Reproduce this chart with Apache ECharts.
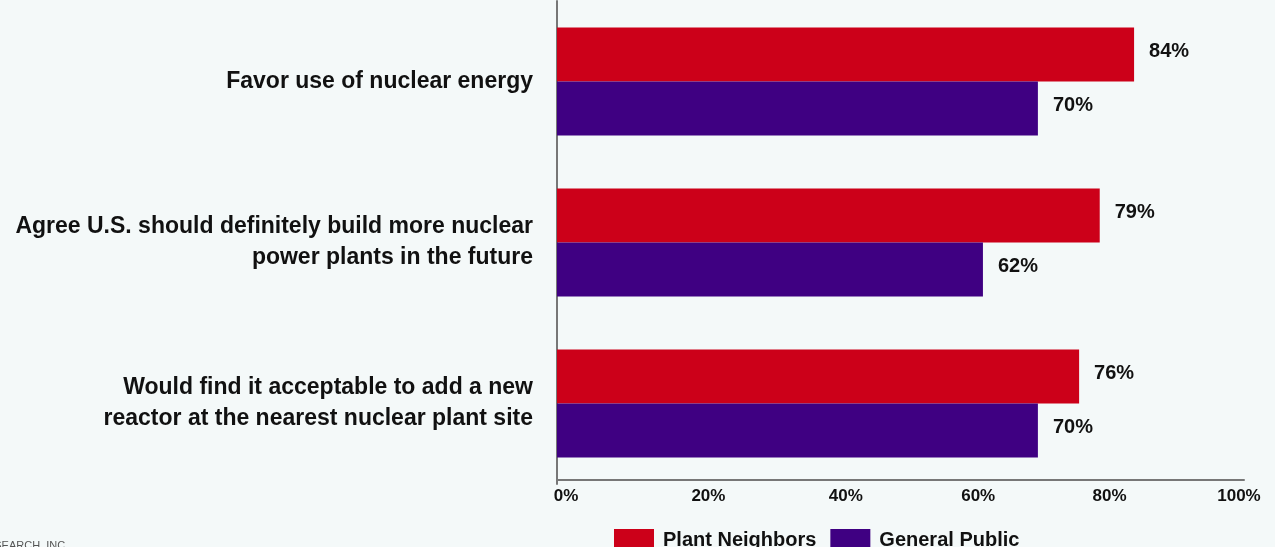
<!DOCTYPE html>
<html>
<head>
<meta charset="utf-8">
<script src="https://cdn.jsdelivr.net/npm/echarts@6/dist/echarts.min.js"></script>
<style>
html,body{margin:0;padding:0;background:#f4f9f9;}
#chart{width:1275px;height:547px;}
</style>
</head>
<body>
<div id="chart"></div>
<script>
const categories = [
  "Favor use of nuclear energy",
  "Agree U.S. should definitely build more nuclear\npower plants in the future",
  "Would find it acceptable to add a new\nreactor at the nearest nuclear plant site"
];
const plantNeighbors = [84, 79, 76];
const generalPublic = [70, 62, 70];
const seriesNames = ["Plant Neighbors", "General Public"];
const xTicks = [0, 20, 40, 60, 80, 100];

const FONT = "'Liberation Sans', Arial, sans-serif";
const chart = echarts.init(document.getElementById('chart'), null, {renderer: 'canvas'});

const labelStyle = {
  show: true,
  position: 'right',
  distance: 15,
  formatter: p => p.value + '%',
  fontFamily: FONT,
  fontWeight: 'bold',
  fontSize: 20,
  color: '#111',
  offset: [0, -3]
};

const tickRich = {};
const tickPad = {0: [0,0,0,18], 20: [0,0,0,28], 40: [0,0,0,28], 60: [0,0,0,18], 80: [0,0,0,6], 100: [0,10,0,0]};
xTicks.forEach(v => {
  tickRich['t' + v] = { fontFamily: FONT, fontWeight: 'bold', fontSize: 17, color: '#111', padding: tickPad[v] };
});

chart.setOption({
  backgroundColor: '#f4f9f9',
  animation: false,
  grid: { left: 557, top: 1, width: 687, height: 483, containLabel: false, outerBoundsMode: 'none' },
  legend: {
    data: seriesNames,
    top: 529,
    left: 614,
    padding: 0,
    itemWidth: 40,
    itemHeight: 22,
    itemGap: 14,
    icon: 'rect',
    textStyle: { fontFamily: FONT, fontWeight: 'bold', fontSize: 20, color: '#111', padding: [0, 0, 0, 4] }
  },
  xAxis: {
    type: 'value',
    min: 0, max: 100, interval: 20,
    offset: -4,
    axisLine: { show: true, lineStyle: { color: '#777', width: 2 } },
    axisTick: { show: false },
    splitLine: { show: false },
    axisLabel: {
      formatter: v => xTicks.includes(v) ? '{t' + v + '|' + v + '%}' : '',
      rich: tickRich,
      fontFamily: FONT, fontWeight: 'bold', fontSize: 17, color: '#111',
      margin: 8
    }
  },
  yAxis: {
    type: 'category',
    data: categories,
    inverse: true,
    axisLine: { show: true, lineStyle: { color: '#777', width: 2 } },
    axisTick: { show: false },
    axisLabel: {
      fontFamily: FONT, fontWeight: 'bold', fontSize: 23, color: '#111',
      lineHeight: 31, margin: 24, align: 'right'
    }
  },
  series: [
    {
      name: seriesNames[0], type: 'bar', data: plantNeighbors,
      barGap: '0%', barCategoryGap: '33%',
      itemStyle: { color: '#cc0019' },
      label: labelStyle
    },
    {
      name: seriesNames[1], type: 'bar', data: generalPublic,
      itemStyle: { color: '#3f0082' },
      label: labelStyle
    }
  ],
  graphic: [
    { type: 'text', left: -21, top: 540, style: { text: 'RESEARCH, INC.', fontFamily: FONT, fontSize: 11, fill: '#555' } }
  ]
});
</script>
</body>
</html>
